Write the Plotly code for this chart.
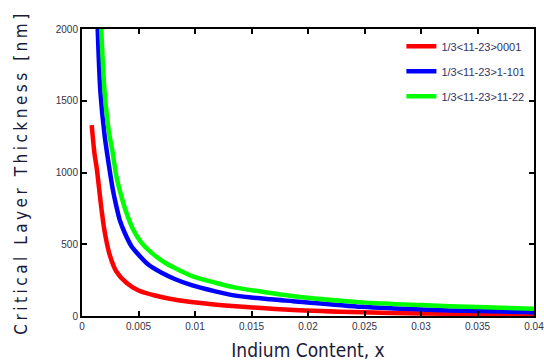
import plotly.graph_objects as go

# Indium content x and critical layer thickness (nm)
red_x = [0.00086, 0.0011, 0.00132, 0.0017, 0.0020, 0.00244, 0.00304, 0.00393, 0.00496,
         0.00646, 0.0085, 0.0115, 0.0136, 0.0187, 0.0248, 0.030, 0.035, 0.040]
red_y = [1330, 1135, 1020, 760, 590, 430, 310, 232, 180,
         143, 110, 82, 68, 42, 26, 18, 14, 11]

blue_x = [0.00139, 0.00163, 0.0020, 0.00244, 0.00273, 0.00304, 0.00333, 0.00378, 0.00438,
          0.00512, 0.00586, 0.00705, 0.0082, 0.0097, 0.0118, 0.0136, 0.0167, 0.0187,
          0.0248, 0.030, 0.035, 0.040]
blue_y = [2000, 1561, 1260, 1020, 881, 765, 672, 580, 486,
          417, 359, 301, 258, 215, 172, 142, 116, 103,
          64, 45, 34, 26]

green_x = [0.0017, 0.0020, 0.00235, 0.00273, 0.00304, 0.00348, 0.00393, 0.00452, 0.00527,
           0.00616, 0.00735, 0.0082, 0.0097, 0.0118, 0.0136, 0.0167, 0.0187, 0.0248,
           0.030, 0.035, 0.040]
green_y = [2000, 1561, 1300, 1130, 974, 835, 719, 603, 510,
           440, 371, 335, 280, 232, 198, 160, 138, 95,
           76, 62, 50]

names = ["1/3<11-23>0001", "1/3<11-23>1-101", "1/3<11-23>11-22"]
x_ticks = [0, 0.005, 0.01, 0.015, 0.02, 0.025, 0.03, 0.035, 0.04]
x_tick_labels = ["0", "0.005", "0.01", "0.015", "0.02", "0.025", "0.03", "0.035", "0.04"]
y_ticks = [0, 500, 1000, 1500, 2000]

series = [(red_x, red_y, "#ff0000"), (blue_x, blue_y, "#0000ff"), (green_x, green_y, "#00ff00")]

fig = go.Figure()
for (xs, ys, col), nm in zip(series, names):
    fig.add_trace(go.Scatter(x=xs, y=ys, mode="lines", name=nm, legendgroup=nm,
                             line=dict(color=col, width=4.5, shape="spline", smoothing=0.8)))

tickfont = dict(family="Liberation Sans Narrow, Arial Narrow, Liberation Sans, Arial", size=10, color="#333344")
axis_common = dict(showline=True, linecolor="black", linewidth=2, mirror="ticks",
                   ticks="inside", ticklen=5, tickwidth=1.5, tickcolor="black",
                   showgrid=False, zeroline=False, tickfont=tickfont, automargin=False,
                   ticklabeloverflow="allow")

fig.update_xaxes(range=[0, 0.04], tickvals=x_ticks, ticktext=x_tick_labels,
                 title=dict(text="Indium Content, x", standoff=13,
                            font=dict(family="DejaVu Sans Condensed, DejaVu Sans", size=19, color="#1a1a3a")),
                 **axis_common)
fig.update_yaxes(range=[0, 2000], tickvals=y_ticks,
                 title=dict(text="Critical Layer Thickness [nm]", standoff=24,
                            font=dict(family="DejaVu Sans Condensed, DejaVu Sans", size=17, color="#1a1a3a")),
                 **axis_common)

fig.update_layout(
    width=544, height=363, autosize=False,
    margin=dict(l=82, r=10, t=29, b=46.5, autoexpand=False),
    paper_bgcolor="white", plot_bgcolor="white",
    showlegend=True,
    legend=dict(x=0.992, y=0.99, xanchor="right", yanchor="top",
                bgcolor="rgba(0,0,0,0)", tracegroupgap=6, itemwidth=30,
                font=dict(family="Liberation Sans Narrow, Arial Narrow, Liberation Sans, Arial", size=11, color="#333366")),
)

post = "document.querySelectorAll('.ytitle').forEach(function(e){e.style.letterSpacing='3.5px';});"
fig.write_html("out.html", post_script=post)
